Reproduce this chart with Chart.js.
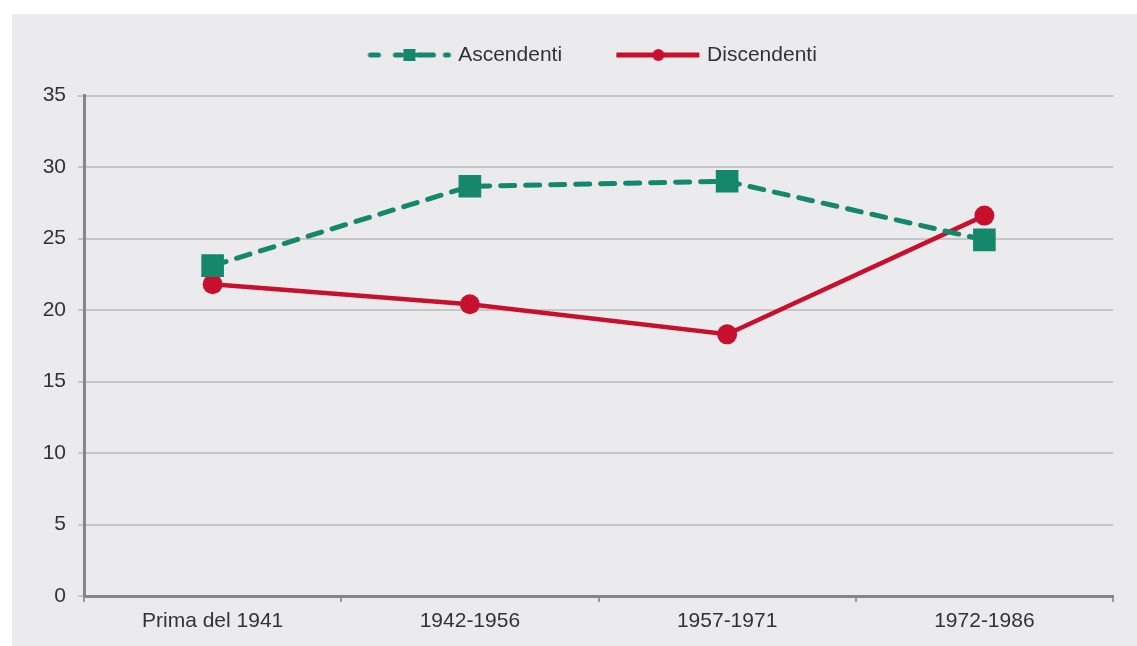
<!DOCTYPE html>
<html><head><meta charset="utf-8">
<script src="https://cdn.jsdelivr.net/npm/chart.js@4.4.0/dist/chart.umd.min.js"></script>
<style>
html,body{margin:0;padding:0;background:#fff;overflow:hidden;}
#panel{position:absolute;left:12px;top:14px;width:1125px;height:632px;background:#ebebee;}
</style></head><body>
<div id="panel"><canvas id="c"></canvas></div>
<script>
const categories = ['Prima del 1941', '1942-1956', '1957-1971', '1972-1986'];
const seriesNames = ['Ascendenti', 'Discendenti'];
const ascendenti = [23.1, 28.65, 29.0, 24.9];
const discendenti = [21.8, 20.4, 18.3, 26.6];
const yTickMin = 0, yTickMax = 35, yTickStep = 5;

const GREEN = '#15876a';
const RED = '#c8102e';
const FONT = '"Liberation Sans", Arial, sans-serif';

function makeGreenLegend() {
  const cv = document.createElement('canvas');
  cv.width = 130; cv.height = 24;
  const g = cv.getContext('2d');
  const s = 43, cy = 12;
  g.strokeStyle = GREEN; g.lineWidth = 5; g.lineCap = 'round';
  [[0, 12], [25, 35], [47, 67], [75, 82]].forEach(([a, b]) => {
    g.beginPath(); g.moveTo(s + a + 2, cy); g.lineTo(s + b - 2, cy); g.stroke();
  });
  g.fillStyle = GREEN;
  g.fillRect(s + 35, cy - 6, 12, 12);
  return cv;
}
function makeRedLegend() {
  const cv = document.createElement('canvas');
  cv.width = 122; cv.height = 24;
  const g = cv.getContext('2d');
  const s = 38, cy = 12;
  g.strokeStyle = RED; g.lineWidth = 5; g.lineCap = 'butt';
  g.beginPath(); g.moveTo(s, cy); g.lineTo(s + 83, cy); g.stroke();
  g.fillStyle = RED;
  g.beginPath(); g.arc(s + 42, cy, 6, 0, Math.PI * 2); g.fill();
  return cv;
}
const legendImgs = [makeGreenLegend(), makeRedLegend()];

const legendGap = {
  id: 'legendGap',
  beforeLayout(chart) {
    const lg = chart.legend;
    if (lg && !lg.__gapPatched) {
      const f = lg.fit;
      lg.fit = function () { f.call(this); this.height += 20; };
      lg.__gapPatched = true;
    }
  }
};

new Chart(document.getElementById('c'), {
  type: 'line',
  plugins: [legendGap],
  data: {
    labels: categories,
    datasets: [
      {
        label: seriesNames[0], data: ascendenti,
        borderColor: GREEN, backgroundColor: GREEN,
        borderWidth: 5, borderDash: [14, 11], borderCapStyle: 'round',
        pointStyle: 'rect', pointRadius: 16, pointBorderWidth: 0,
        pointBackgroundColor: GREEN, tension: 0, fill: false
      },
      {
        label: seriesNames[1], data: discendenti,
        borderColor: RED, backgroundColor: RED,
        borderWidth: 4.5,
        pointStyle: 'circle', pointRadius: 10, pointBorderWidth: 0,
        pointBackgroundColor: RED, tension: 0, fill: false
      }
    ]
  },
  options: {
    responsive: true, maintainAspectRatio: false, animation: false,
    layout: { padding: { left: 25, right: 24, top: 10.5, bottom: 0 } },
    plugins: {
      tooltip: { enabled: false },
      legend: {
        display: true, position: 'top', align: 'center',
        labels: {
          usePointStyle: true, pointStyleWidth: 114.5, padding: 20,
          color: '#333', font: { family: FONT, size: 21 },
          generateLabels(chart) {
            const items = Chart.defaults.plugins.legend.labels.generateLabels(chart);
            items.forEach((it, i) => { it.pointStyle = legendImgs[i]; });
            return items;
          }
        }
      }
    },
    scales: {
      x: {
        type: 'category', offset: true,
        grid: { display: true, drawOnChartArea: false, drawTicks: true, offset: true, tickLength: 6, color: '#9a9a9a', lineWidth: 2 },
        border: { display: true, color: '#868686', width: 3 },
        ticks: { color: '#333', font: { family: FONT, size: 21 }, padding: 7, maxRotation: 0, autoSkip: false },
        afterFit(scale) { scale.height = 50; }
      },
      y: {
        min: yTickMin, max: yTickMax,
        grid: { color: '#c6c6c6', lineWidth: 2, tickLength: 6, drawTicks: true },
        border: { display: true, color: '#868686', width: 3 },
        ticks: { stepSize: yTickStep, color: '#333', font: { family: FONT, size: 21 }, padding: 12 },
        afterFit(scale) { scale.width = 47; }
      }
    }
  }
});
</script>
</body></html>
